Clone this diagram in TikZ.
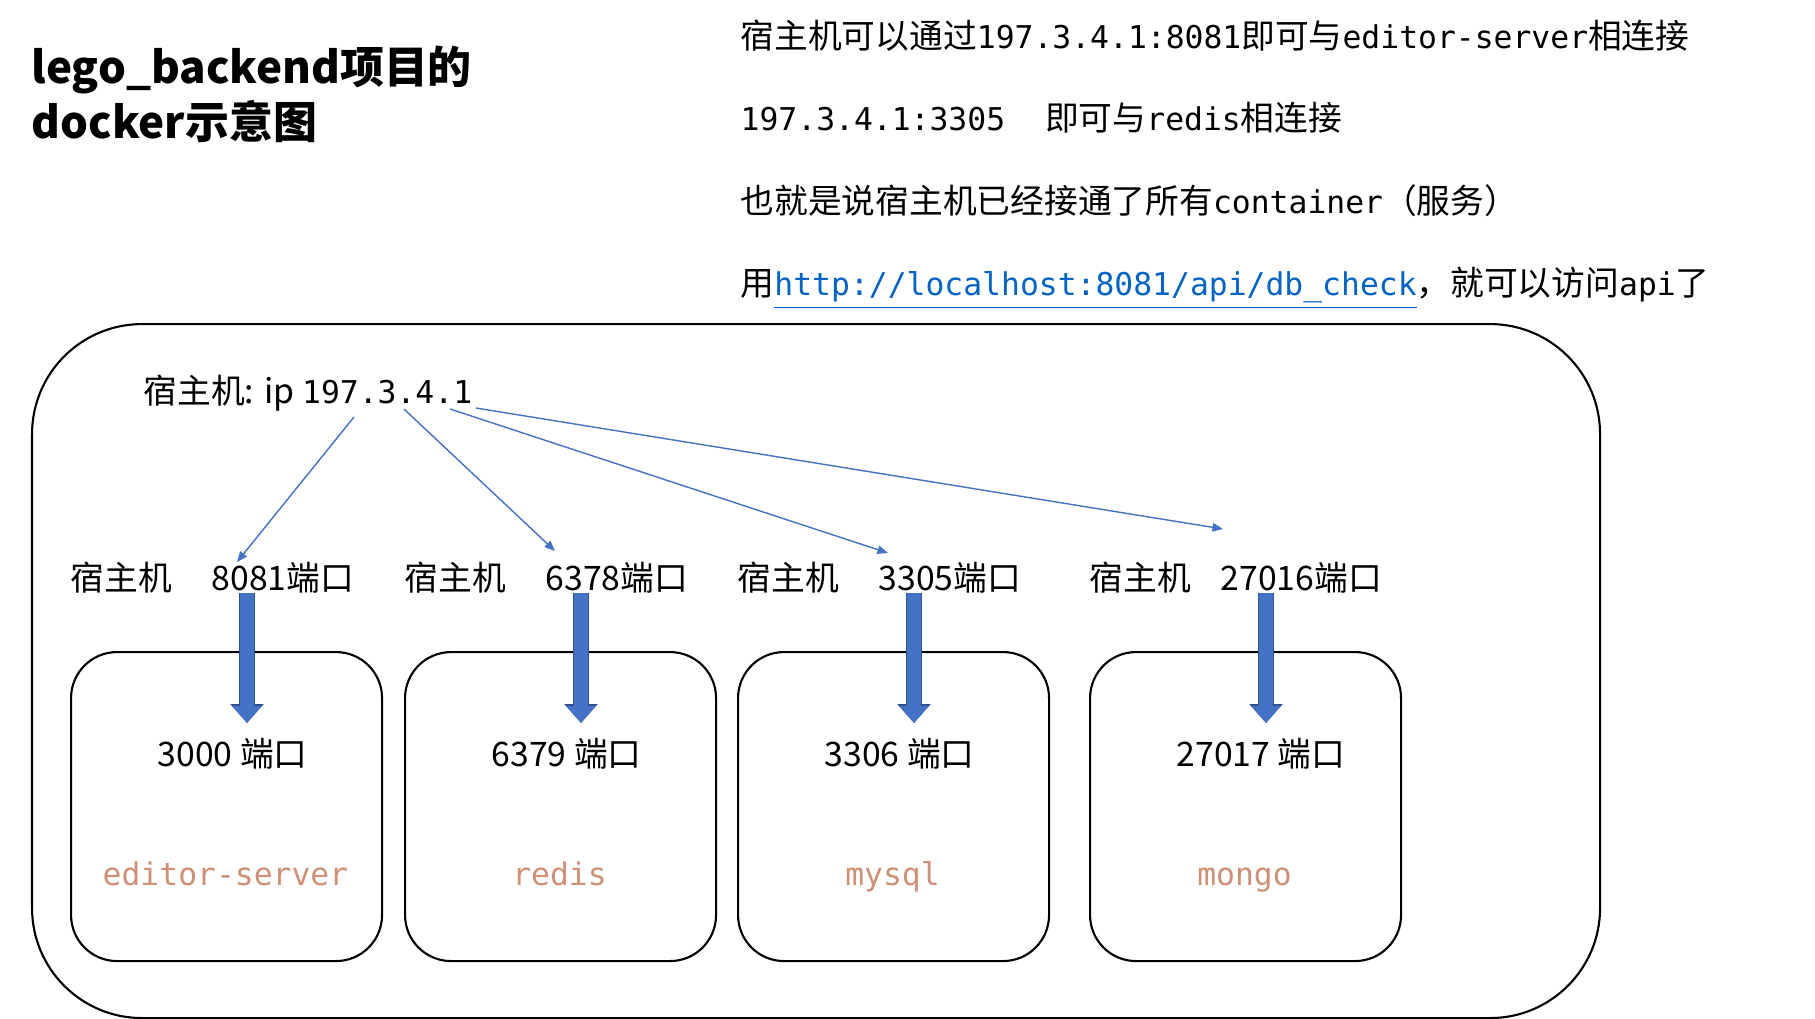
\documentclass[tikz,border=0pt]{standalone}
\usepackage{fontspec}
\setmainfont{Noto Sans CJK SC}
\newfontfamily\cdfont[Scale=0.93]{DejaVu Sans Mono}
\usetikzlibrary{arrows.meta,positioning,calc}
\definecolor{dkblue}{HTML}{4472C4}
\definecolor{dkedge}{HTML}{2F528F}
\definecolor{vsstr}{HTML}{CE9178}
\definecolor{lnk}{HTML}{0563C1}
\newcommand{\tcode}[1]{{\cdfont #1}}
% one container: id, x of host port label, host port, container port, service
\newcommand{\ctr}[5]{%
  \node[txt, anchor=base west] (h#1) at (0,-5.90) {宿主机};
  \node[txt, anchor=base west] (p#1) at (#2,-5.90) {#3端口};
  \node[cbox, anchor=north west] (c#1) at (0,-6.51) {};
  \node[txt, anchor=base west] (q#1) at (0.87,-7.66) {#4 端口};
  \node[svc, anchor=base] (s#1) at (1.555,-8.85) {\tcode{#5}};
  \coordinate (k#1) at (1.77,-7.23);
  \draw[blk] (p#1.south -| k#1) -- (k#1);}
\tikzset{
  txt/.style={font=\fontsize{9.6}{11}\selectfont, inner sep=0pt},
  ttl/.style={font=\fontsize{12.5}{15}\selectfont\bfseries, inner sep=0pt},
  svc/.style={txt, text=vsstr},
  cbox/.style={draw, line width=0.6pt, rounded corners=0.46cm,
    minimum width=3.11cm, minimum height=3.09cm},
  frame/.style={draw, line width=0.6pt, rounded corners=1.1cm,
    minimum width=15.68cm, minimum height=6.94cm},
  blk/.style={dkblue, line width=4pt, -{Triangle[width=8pt,length=4.8pt]},
    preaction={draw=dkedge, line width=4.6pt, -{Triangle[width=9.2pt,length=5.4pt]}}},
  thinar/.style={dkblue, line width=0.4pt, -{Triangle[length=3pt,width=2.4pt]}},
}
\begin{document}
\begin{tikzpicture}[x=1cm,y=1cm]
\useasboundingbox (0,0) rectangle (18.15,-10.18);
\node[ttl, anchor=base west] (ttl1) at (0.31,-0.83) {lego\_backend项目的};
\node[ttl, anchor=base west] (ttl2) at (0.31,-1.38) {docker示意图};

\node[txt, anchor=base west] (l1) at (7.40,-0.48)
  {宿主机可以通过\tcode{197.3.4.1:8081}即可与\tcode{editor-server}相连接};
\node[txt, anchor=base west] (l2) at (7.40,-1.30)
  {\tcode{197.3.4.1:3305}\hspace{0.4cm}即可与\tcode{redis}相连接};
\node[txt, anchor=base west] (l3) at (7.40,-2.13)
  {也就是说宿主机已经接通了所有\tcode{container}（服务）};
\node[txt, anchor=base west] (l4) at (7.40,-2.95)
  {用\textcolor{lnk}{\underline{\tcode{http://localhost:8081/api/db\_check}}}，就可以访问\tcode{api}了};

\node[frame, anchor=north west] (box) at (0.31,-3.23) {};
\node[txt, anchor=base west] (host) at (1.43,-4.03) {宿主机: ip \tcode{197.3.4.1}};

\begin{scope}[xshift=0.70cm]
  \ctr{1}{1.41}{8081}{3000}{editor-server}
\end{scope}
\begin{scope}[xshift=4.04cm]
  \ctr{2}{1.41}{6378}{6379}{redis}
\end{scope}
\begin{scope}[xshift=7.37cm]
  \ctr{3}{1.41}{3305}{3306}{mysql}
\end{scope}
\begin{scope}[xshift=10.89cm]
  \ctr{4}{1.31}{27016}{27017}{mongo}
\end{scope}

\coordinate (e1) at (2.37,-5.62);
\coordinate (e2) at (5.55,-5.51);
\coordinate (e3) at (8.88,-5.53);
\coordinate (e4) at (12.23,-5.29);
\draw[thinar] ($(host.base west)+(2.11,-0.14)$) -- (e1);
\draw[thinar] ($(host.base west)+(2.61,-0.06)$) -- (e2);
\draw[thinar] ($(host.base west)+(3.07,-0.06)$) -- (e3);
\draw[thinar] ($(host.base west)+(3.33,-0.05)$) -- (e4);
\end{tikzpicture}
\end{document}
